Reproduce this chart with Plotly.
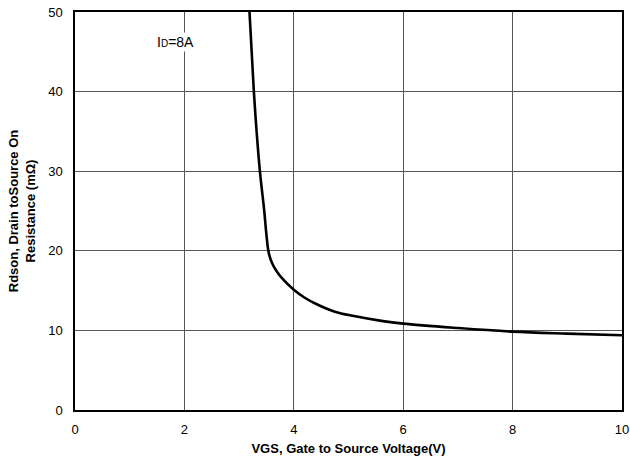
import plotly.graph_objects as go

vgs = [3.19, 3.23, 3.27, 3.32, 3.38, 3.46, 3.50, 3.54, 3.60, 3.68, 3.78, 4.0, 4.2, 4.4, 4.75, 5.1, 5.6, 6.0, 7.0, 8.0, 9.0, 10.0]
rdson = [50, 45, 40, 35, 30, 25, 22.0, 19.8, 18.5, 17.5, 16.6, 15.1, 14.1, 13.35, 12.35, 11.8, 11.2, 10.85, 10.3, 9.85, 9.6, 9.4]

xticks = [0, 2, 4, 6, 8, 10]
yticks = [0, 10, 20, 30, 40, 50]

fig = go.Figure()
fig.add_trace(go.Scatter(x=vgs, y=rdson, mode="lines", line=dict(color="black", width=2.6, shape="spline", smoothing=1.0), showlegend=False))

fig.update_layout(
    width=630, height=465,
    margin=dict(l=75, r=8, t=12, b=55),
    plot_bgcolor="white", paper_bgcolor="white",
    font=dict(family="Liberation Sans, Arial, sans-serif", size=13, color="black"),
    xaxis=dict(range=[0, 10], tickvals=xticks, showgrid=True, gridcolor="#555555", gridwidth=1,
               showline=True, linecolor="black", linewidth=1.5, mirror=True, zeroline=False,
               ticks="", ticklen=0, ticklabelstandoff=7, automargin=False,
               title=dict(text="<b>VGS, Gate to Source Voltage(V)</b>", font=dict(size=13), standoff=8)),
    yaxis=dict(range=[0, 50], tickvals=yticks, showgrid=True, gridcolor="#555555", gridwidth=1,
               showline=True, linecolor="black", linewidth=1.5, mirror=True, zeroline=False,
               ticks="", ticklen=0, ticklabelstandoff=8, automargin=False,
               title=dict(text="<b>Rdson, Drain toSource On<br>Resistance (mΩ)</b>", font=dict(size=13), standoff=10)),
    annotations=[dict(x=1.84, y=46.2, xref="x", yref="y", text="I<span style='font-size:10px'>D</span>=8A",
                      showarrow=False, font=dict(size=14), bgcolor="white")],
)

fig.write_html("out.html", config={"displayModeBar": False},
               post_script="document.body.style.margin='0';document.body.style.overflow='hidden';")
